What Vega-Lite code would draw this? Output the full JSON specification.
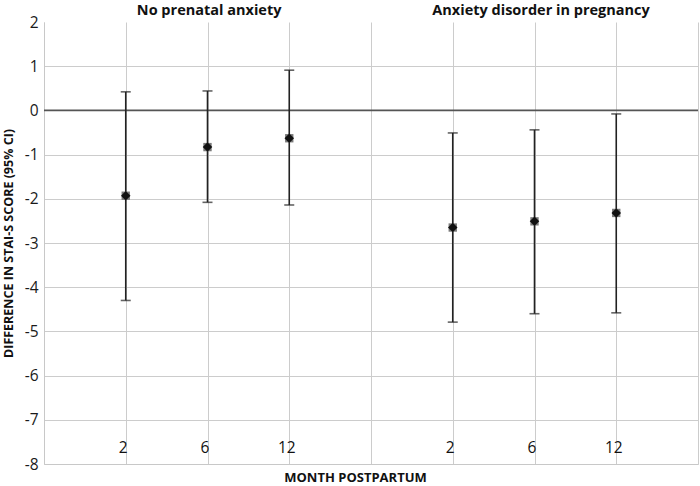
{
  "$schema": "https://vega.github.io/schema/vega-lite/v6.json",
  "width": 654,
  "height": 442,
  "autosize": "none",
  "padding": {"left": 44, "top": 22, "right": 2, "bottom": 22},
  "background": "white",
  "config": {"view": {"stroke": null}, "font": "Open Sans"},
  "datasets": {
    "pts": [
      {"group": "No prenatal anxiety", "month": 2, "pos": 1, "est": -1.93, "lo": -4.30, "hi": 0.42},
      {"group": "No prenatal anxiety", "month": 6, "pos": 2, "est": -0.83, "lo": -2.08, "hi": 0.44},
      {"group": "No prenatal anxiety", "month": 12, "pos": 3, "est": -0.63, "lo": -2.14, "hi": 0.91},
      {"group": "Anxiety disorder in pregnancy", "month": 2, "pos": 5, "est": -2.65, "lo": -4.79, "hi": -0.51},
      {"group": "Anxiety disorder in pregnancy", "month": 6, "pos": 6, "est": -2.51, "lo": -4.60, "hi": -0.44},
      {"group": "Anxiety disorder in pregnancy", "month": 12, "pos": 7, "est": -2.32, "lo": -4.58, "hi": -0.08}
    ],
    "titles": [
      {"label": "No prenatal anxiety", "pos": 2.02, "y": 2},
      {"label": "Anxiety disorder in pregnancy", "pos": 6.08, "y": 2}
    ],
    "zero": [{"y": 0}]
  },
  "layer": [
    {
      "data": {"name": "zero"},
      "mark": {"type": "rule", "color": "#555555", "strokeWidth": 1.6},
      "encoding": {
        "y": {
          "field": "y", "type": "quantitative",
          "scale": {"domain": [-8, 2], "nice": false},
          "axis": {
            "values": [-8, -7, -6, -5, -4, -3, -2, -1, 0, 1, 2],
            "labelExpr": "'' + datum.value",
            "title": "DIFFERENCE IN STAI-S SCORE (95% CI)",
            "titleFontSize": 12.5, "titleFontWeight": "bold", "titleColor": "#111111",
            "titlePadding": 9,
            "labelFontSize": 15.5, "labelColor": "#1a1a1a", "labelPadding": 6,
            "ticks": false,
            "domainColor": "#c8c8c8",
            "gridColor": "#cccccc",
            "gridOpacity": {"condition": {"test": "datum.value == 2", "value": 0}, "value": 1}
          }
        }
      }
    },
    {
      "data": {"name": "pts"},
      "mark": {"type": "rule", "color": "#222222", "strokeWidth": 1.6},
      "encoding": {
        "x": {
          "field": "pos", "type": "quantitative",
          "scale": {"domain": [0, 8], "nice": false},
          "axis": {
            "values": [0, 1, 2, 3, 4, 5, 6, 7, 8],
            "labelExpr": "datum.value == 1 || datum.value == 5 ? '2' : datum.value == 2 || datum.value == 6 ? '6' : datum.value == 3 || datum.value == 7 ? '12' : ''",
            "title": "MONTH POSTPARTUM",
            "titleFontSize": 13, "titleFontWeight": "bold", "titleColor": "#111111",
            "titleX": 311, "titlePadding": 7,
            "labelFontSize": 15.5, "labelColor": "#111111",
            "labelPadding": -24, "labelOffset": -3,
            "ticks": false,
            "domainColor": "#c8c8c8",
            "gridColor": "#cccccc"
          }
        },
        "y": {"field": "lo", "type": "quantitative"},
        "y2": {"field": "hi"}
      }
    },
    {
      "data": {"name": "pts"},
      "mark": {"type": "tick", "orient": "horizontal", "color": "#222222", "size": 10, "thickness": 1.6},
      "encoding": {
        "x": {"field": "pos", "type": "quantitative"},
        "y": {"field": "lo", "type": "quantitative"}
      }
    },
    {
      "data": {"name": "pts"},
      "mark": {"type": "tick", "orient": "horizontal", "color": "#222222", "size": 10, "thickness": 1.6},
      "encoding": {
        "x": {"field": "pos", "type": "quantitative"},
        "y": {"field": "hi", "type": "quantitative"}
      }
    },
    {
      "data": {"name": "pts"},
      "mark": {"type": "point", "shape": "square", "filled": true, "color": "#7a7a7a", "size": 70, "opacity": 1},
      "encoding": {
        "x": {"field": "pos", "type": "quantitative"},
        "y": {"field": "est", "type": "quantitative"}
      }
    },
    {
      "data": {"name": "pts"},
      "mark": {"type": "point", "shape": "diamond", "filled": true, "color": "#111111", "size": 90, "opacity": 1},
      "encoding": {
        "x": {"field": "pos", "type": "quantitative"},
        "y": {"field": "est", "type": "quantitative"}
      }
    },
    {
      "data": {"name": "titles"},
      "mark": {"type": "text", "fontSize": 14.5, "fontWeight": "bold", "color": "#111111", "baseline": "bottom", "dy": -4},
      "encoding": {
        "x": {"field": "pos", "type": "quantitative"},
        "y": {"field": "y", "type": "quantitative"},
        "text": {"field": "label"}
      }
    }
  ]
}
